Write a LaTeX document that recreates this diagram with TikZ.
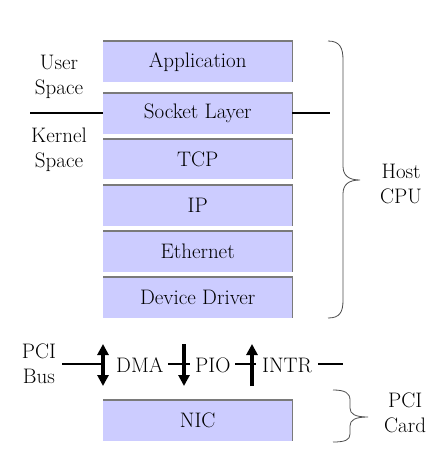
\documentclass[tikz,border=0pt]{standalone}
\usepackage{fontspec}
\usetikzlibrary{arrows.meta}
\definecolor{boxfill}{HTML}{CCCCFF}
\definecolor{boxedge}{HTML}{7A7A7A}
\begin{document}
\begin{tikzpicture}[x=1pt,y=-1pt,
  layer/.style={fill=boxfill, minimum width=189pt, minimum height=41pt, inner sep=0pt, anchor=north west,
    font=\fontsize{21}{25}\selectfont},
  edge/.style={draw=boxedge, line width=1.2pt},
  lbl/.style={align=center, inner sep=0pt, font=\fontsize{21}{25}\selectfont},
  bus/.style={line width=2.4pt},
  sig/.style={line width=3.4pt, -{Triangle[length=11pt,width=11pt]}},
  sigboth/.style={line width=3.4pt, {Triangle[length=11pt,width=11pt]}-{Triangle[length=11pt,width=11pt]}},
  bracestyle/.style={draw=black!70, line width=0.8pt}]
\useasboundingbox (0,0) rectangle (444,463);

% layers
\node[layer] (app) at (103,41) {Application};
\node[layer] (sock) at (103,93) {Socket Layer};
\node[layer, minimum height=40pt] (tcp) at (103,139) {TCP};
\node[layer] (ip) at (103,185) {IP};
\node[layer] (eth) at (103,231) {Ethernet};
\node[layer] (dd) at (103,277) {Device Driver};
\node[layer] (nic) at (103,400) {NIC};
\foreach \n in {app,sock,tcp,ip,eth,dd,nic}
  \draw[edge] (\n.north west) -- (\n.north east) -- (\n.south east);

% user/kernel boundary
\coordinate (ukl) at (30,113);
\coordinate (ukr) at (330,113);
\draw[bus] (ukl) -- (ukl -| sock.west);
\draw[bus] (ukr -| sock.east) -- (ukr);
\node[lbl] (user) at (59,77) {User\\Space};
\node[lbl] (kern) at (59,150) {Kernel\\Space};

% Host CPU brace
\draw[bracestyle] (328,41) .. controls (340,41) and (343,48) .. (343,60) -- (343,166)
  .. controls (343,175) and (348,180) .. (360,180) .. controls (348,180) and (343,185) .. (343,194)
  -- (343,300) .. controls (343,312) and (340,318) .. (328,318);
\node[lbl, anchor=west] (host) at (380,184) {Host\\CPU};

% PCI bus
\node[lbl] (pcibus) at (39,364) {PCI\\Bus};
\node[lbl, anchor=west] (dma) at (116,365) {DMA};
\node[lbl, anchor=west] (pio) at (195,365) {PIO};
\node[lbl, anchor=west] (intr) at (262,365) {INTR};
\coordinate (b0) at (62,364);
\coordinate (b1) at (104,364);
\coordinate (b2) at (168,364);
\coordinate (b3) at (190,364);
\coordinate (b4) at (235,364);
\coordinate (b5) at (256,364);
\coordinate (b6) at (318,364);
\coordinate (b7) at (343,364);
\draw[bus] (b0) -- (b1);
\draw[bus] (b2) -- (b3);
\draw[bus] (b4) -- (b5);
\draw[bus] (b6) -- (b7);
\coordinate (dmat) at (103,344);
\coordinate (dmab) at (103,386);
\coordinate (piot) at (184,344);
\coordinate (piob) at (184,386);
\coordinate (intt) at (252,344);
\coordinate (intb) at (252,386);
\draw[sigboth] (dmab) -- (dmat);
\draw[sig] (piot) -- (piob);
\draw[sig] (intb) -- (intt);

% PCI card brace
\draw[bracestyle] (333,390) .. controls (345,390) and (350,393) .. (350,400) -- (350,408)
  .. controls (350,414) and (355,417) .. (368,417) .. controls (355,417) and (350,420) .. (350,426)
  -- (350,434) .. controls (350,440) and (345,442) .. (333,442);
\node[lbl, anchor=west] (card) at (384,413) {PCI\\Card};
\end{tikzpicture}
\end{document}
